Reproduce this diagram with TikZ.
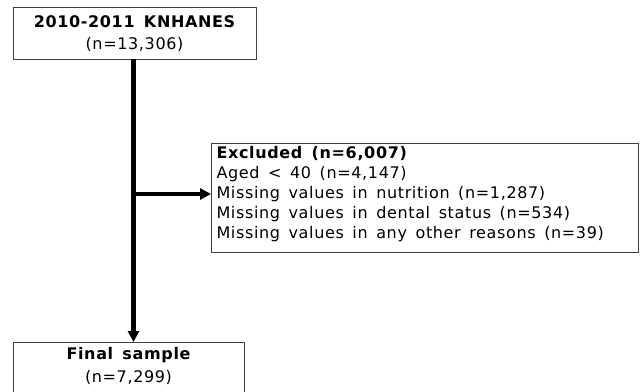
\documentclass[tikz,border=0pt]{standalone}
\usepackage{fontspec}
\setmainfont{DejaVu Sans}[LetterSpace=4,WordSpace=1.5]
\usetikzlibrary{arrows.meta}
\begin{document}
\begin{tikzpicture}[x=1pt,y=-1pt,
  box/.style={draw=black!75, line width=0.9pt, inner sep=0pt, outer sep=0pt, fill=white},
  txt/.style={font=\fontsize{16}{20}\selectfont},
  btxt/.style={font=\fontsize{16}{20}\selectfont\bfseries},
  flow/.style={line width=4.2pt, black},
  arr/.style={flow, -{Triangle[length=11pt,width=11pt]}}]
\clip (0,0) rectangle (640,391);
\fill[white] (0,0) rectangle (640,391);
\node[box, minimum width=243pt, minimum height=52pt] (top) at (134.5,33) {};
\node[btxt] (toptitle) at (134.5,22) {2010-2011 KNHANES};
\node[txt] (topn) at (134.5,44) {(n=13,306)};
\node[box, minimum width=427pt, minimum height=109pt] (excl) at (424.5,197.5) {};
\node[txt, anchor=west, align=left] (excltext) at (213,194) {\textbf{Excluded (n=6,007)}\\Aged < 40 (n=4,147)\\Missing values in nutrition (n=1,287)\\Missing values in dental status (n=534)\\Missing values in any other reasons (n=39)};
\node[box, minimum width=231pt, minimum height=70pt, anchor=north] (final) at (128.5,342) {};
\node[btxt] (finaltitle) at (128.5,355) {Final sample};
\node[txt] (finaln) at (128.5,377) {(n=7,299)};
\coordinate (vtop) at ([xshift=-1pt]top.south);
\coordinate (branch) at (vtop |- 0,194);
\coordinate (target) at (excl.west |- 0,194);
\draw[arr] (vtop) -- (vtop |- final.north);
\draw[arr] (branch) -- (target);
\end{tikzpicture}
\end{document}
